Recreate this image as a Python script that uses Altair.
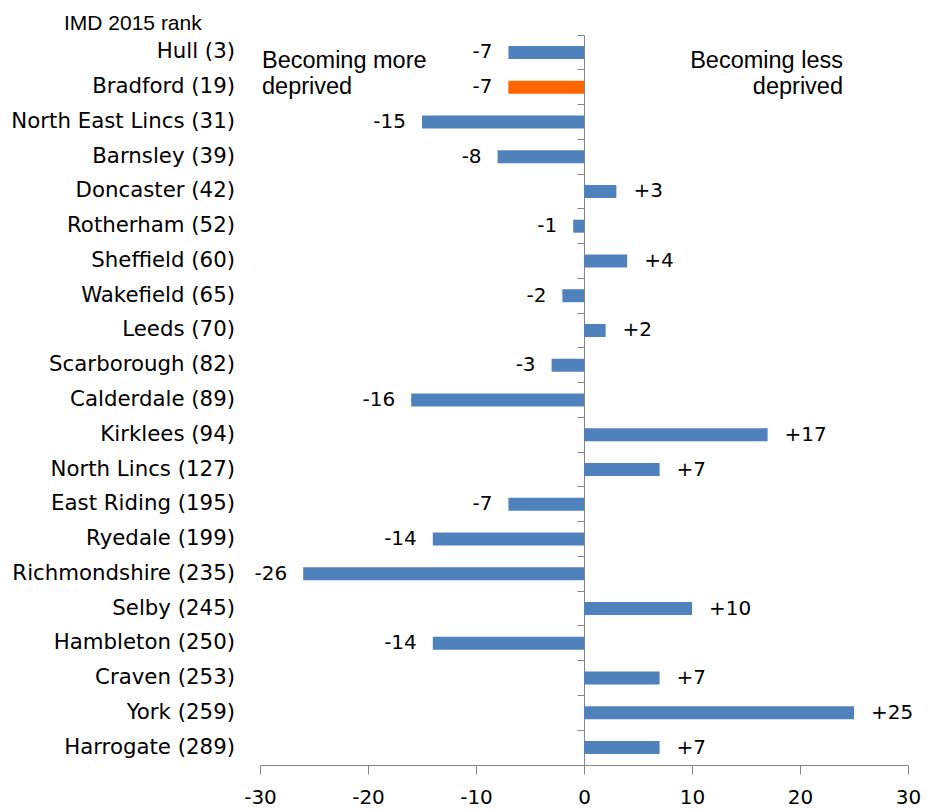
import altair as alt
import pandas as pd

areas = ["Hull (3)", "Bradford (19)", "North East Lincs (31)", "Barnsley (39)",
         "Doncaster (42)", "Rotherham (52)", "Sheffield (60)", "Wakefield (65)",
         "Leeds (70)", "Scarborough (82)", "Calderdale (89)", "Kirklees (94)",
         "North Lincs (127)", "East Riding (195)", "Ryedale (199)",
         "Richmondshire (235)", "Selby (245)", "Hambleton (250)", "Craven (253)",
         "York (259)", "Harrogate (289)"]
changes = [-7, -7, -15, -8, 3, -1, 4, -2, 2, -3, -16, 17, 7, -7, -14, -26, 10, -14, 7, 25, 7]
highlight = "Bradford (19)"
x_ticks = [-30, -20, -10, 0, 10, 20, 30]

df = pd.DataFrame({"area": areas, "change": changes})
df["label"] = [f"+{v}" if v > 0 else str(v) for v in changes]

FONT = "DejaVu Sans"
FS = 20
CAT_FS = 21.3
BLUE = "#4F81BD"
ORANGE = "#FF6600"
GRAY = "#868686"

y_enc = alt.Y("area:N", sort=areas,
              scale=alt.Scale(paddingInner=0, paddingOuter=0),
              axis=alt.Axis(orient="left", offset=-324, labels=False, title=None,
                            tickSize=7, bandPosition=0, domainColor=GRAY,
                            tickColor=GRAY, domainWidth=1, tickWidth=1, grid=False))
x_enc = alt.X("change:Q", scale=alt.Scale(domain=[-30, 30], nice=False),
              axis=alt.Axis(values=x_ticks, title=None, grid=False, tickSize=9,
                            domainColor=GRAY, tickColor=GRAY, labelFont=FONT,
                            labelFontSize=FS, labelColor="black", labelPadding=13,
                            labelFlush=False, labelExpr="'' + datum.value"))

y_plain = alt.Y("area:N", sort=areas)
x_plain = alt.X("change:Q")

base = alt.Chart(df)

bars = base.mark_bar(size=13).encode(
    y=y_enc, x=x_enc,
    color=alt.condition(alt.datum.area == highlight, alt.value(ORANGE), alt.value(BLUE)),
)

neg_lab = base.transform_filter(alt.datum.change < 0).mark_text(
    align="right", baseline="middle", dx=-16, font=FONT, fontSize=FS, color="black"
).encode(y=y_plain, x=x_plain, text="label:N")

pos_lab = base.transform_filter(alt.datum.change > 0).mark_text(
    align="left", baseline="middle", dx=17, font=FONT, fontSize=FS, color="black"
).encode(y=y_plain, x=x_plain, text="label:N")

cat_lab = base.mark_text(
    align="right", baseline="middle", font=FONT, fontSize=CAT_FS, color="black"
).encode(y=y_plain, x=alt.value(-25), text="area:N")

notes = pd.DataFrame({"t": ["x"]})
left_note = alt.Chart(notes).mark_text(
    align="left", baseline="alphabetic", font="Liberation Sans", fontSize=23.5,
    lineHeight=26, color="black", text=["Becoming more", "deprived"]
).encode(x=alt.value(2), y=alt.value(33))
right_note = alt.Chart(notes).mark_text(
    align="right", baseline="alphabetic", font="Liberation Sans", fontSize=23.5,
    lineHeight=26, color="black", text=["Becoming less", "deprived"]
).encode(x=alt.value(583), y=alt.value(33))
imd_note = alt.Chart(notes).mark_text(
    align="left", baseline="alphabetic", font="Liberation Sans", fontSize=21,
    color="black", text="IMD 2015 rank"
).encode(x=alt.value(-196), y=alt.value(-5))

chart = alt.layer(bars, neg_lab, pos_lab, cat_lab, left_note, right_note, imd_note).properties(
    width=648, height=730,
    background="white",
    autosize=alt.AutoSizeParams(type="none"),
    padding={"left": 252, "top": 27, "right": 15, "bottom": 44},
).configure_view(strokeWidth=0, stroke="transparent").configure_axis(grid=False)

chart.save("out.html", embed_options={"renderer": "svg", "actions": False})
